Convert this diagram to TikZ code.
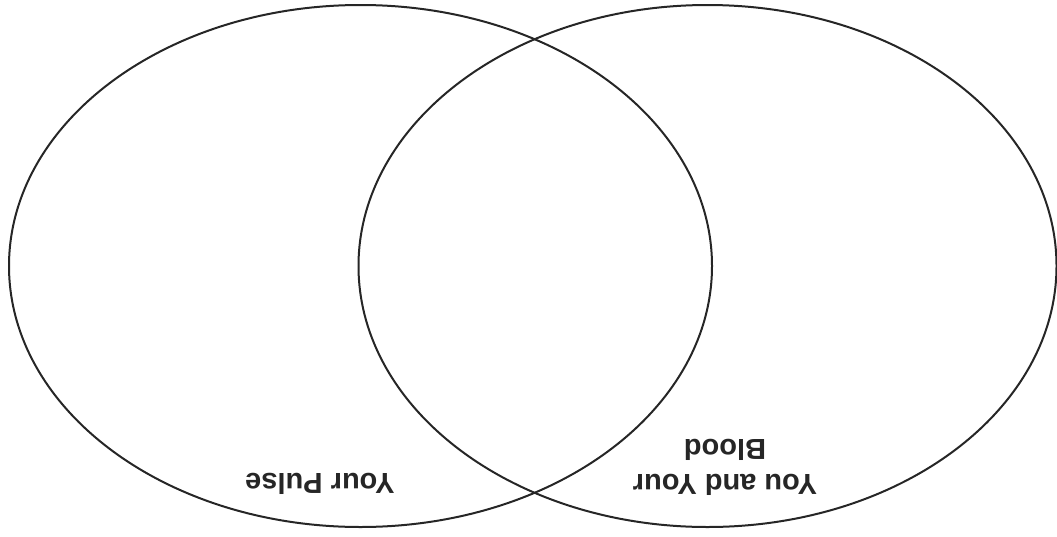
\documentclass[tikz,border=0pt]{standalone}
\usepackage{fontspec}
\setmainfont{Liberation Sans}
\usetikzlibrary{shapes.geometric}
\begin{document}
\begin{tikzpicture}[
  x=1pt,y=-1pt,
  ring/.style={ellipse,draw=black!85,line width=2pt,inner sep=0pt,minimum width=703pt,minimum height=522pt},
  word/.style={rotate=180,align=center,inner sep=0pt,text=black!85,font=\bfseries\fontsize{29}{35}\selectfont}
]
\useasboundingbox (0,0) rectangle (1057,536);
\node[ring] (pulse) at (360.5,266) {};
\node[ring,minimum width=698pt] (blood) at (707.5,266) {};
\node[word] (pulsetext) at (320,484) {Your Pulse};
\node[word] (bloodtext) at (725,467.5) {You and Your\\Blood};
\end{tikzpicture}
\end{document}
